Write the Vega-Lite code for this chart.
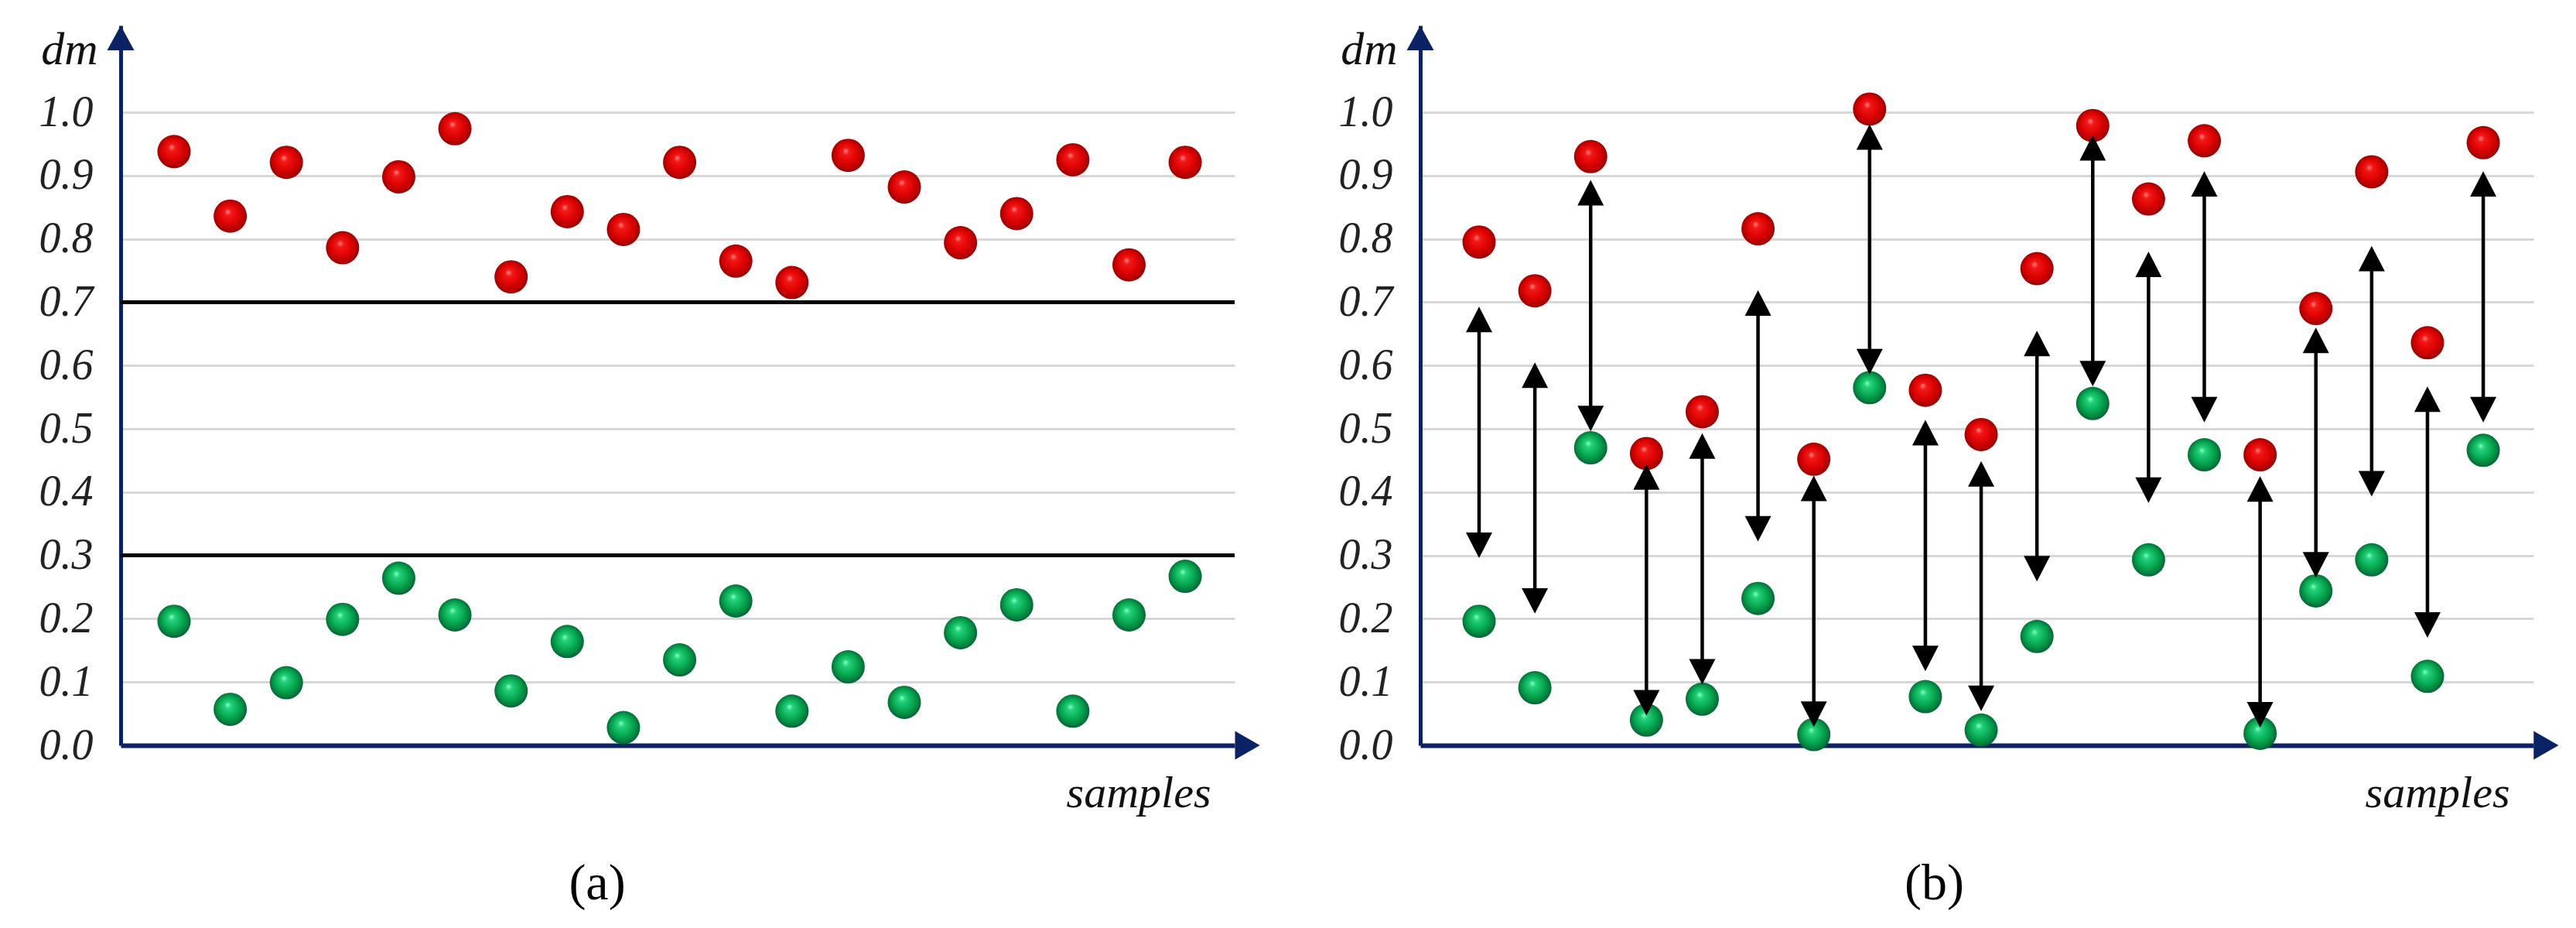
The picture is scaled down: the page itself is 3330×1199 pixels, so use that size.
{
  "$schema": "https://vega.github.io/schema/vega-lite/v6.json",
  "background": "white",
  "padding": {"left": 50, "top": 33, "right": 10, "bottom": 10},
  "bounds": "flush",
  "spacing": 240,
  "config": {
    "view": {"stroke": null},
    "axisY": {
      "domainColor": "#0b2265", "domainWidth": 5, "domainCap": "butt",
      "ticks": false, "grid": true, "gridColor": "#d7d7d7", "gridWidth": 3,
      "labelFont": "Liberation Serif", "labelFontStyle": "italic", "labelFontSize": 56,
      "labelColor": "#222222", "labelPadding": 36, "labelBaseline": "middle",
      "labelFlush": false, "labelOverlap": false, "labelBound": false,
      "titleFont": "Liberation Serif", "titleFontStyle": "italic", "titleFontSize": 60,
      "titleFontWeight": "normal", "titleColor": "#111111"
    },
    "axisX": {
      "domainColor": "#0b2265", "domainWidth": 6, "domainCap": "butt",
      "ticks": false, "grid": false, "labels": false,
      "titleFont": "Liberation Serif", "titleFontStyle": "italic", "titleFontSize": 58,
      "titleFontWeight": "normal", "titleColor": "#111111"
    }
  },
  "datasets": {
    "a": [
      {"sample": 1, "red": 0.938, "green": 0.196},
      {"sample": 2, "red": 0.836, "green": 0.057},
      {"sample": 3, "red": 0.921, "green": 0.099},
      {"sample": 4, "red": 0.786, "green": 0.199},
      {"sample": 5, "red": 0.898, "green": 0.264},
      {"sample": 6, "red": 0.974, "green": 0.206},
      {"sample": 7, "red": 0.740, "green": 0.086},
      {"sample": 8, "red": 0.843, "green": 0.164},
      {"sample": 9, "red": 0.815, "green": 0.028},
      {"sample": 10, "red": 0.921, "green": 0.135},
      {"sample": 11, "red": 0.765, "green": 0.228},
      {"sample": 12, "red": 0.731, "green": 0.054},
      {"sample": 13, "red": 0.932, "green": 0.124},
      {"sample": 14, "red": 0.882, "green": 0.068},
      {"sample": 15, "red": 0.794, "green": 0.178},
      {"sample": 16, "red": 0.840, "green": 0.222},
      {"sample": 17, "red": 0.925, "green": 0.054},
      {"sample": 18, "red": 0.759, "green": 0.206},
      {"sample": 19, "red": 0.921, "green": 0.267}
    ],
    "thresholds": [{"threshold": 0.3}, {"threshold": 0.7}],
    "one": [{"item": "axis arrow"}],
    "b": [
      {"sample": 1, "red": 0.795, "green": 0.196, "arrowTop": 0.693, "arrowBottom": 0.296},
      {"sample": 2, "red": 0.718, "green": 0.091, "arrowTop": 0.605, "arrowBottom": 0.208},
      {"sample": 3, "red": 0.930, "green": 0.470, "arrowTop": 0.893, "arrowBottom": 0.496},
      {"sample": 4, "red": 0.461, "green": 0.040, "arrowTop": 0.444, "arrowBottom": 0.047},
      {"sample": 5, "red": 0.527, "green": 0.073, "arrowTop": 0.493, "arrowBottom": 0.096},
      {"sample": 6, "red": 0.816, "green": 0.232, "arrowTop": 0.719, "arrowBottom": 0.322},
      {"sample": 7, "red": 0.452, "green": 0.017, "arrowTop": 0.426, "arrowBottom": 0.029},
      {"sample": 8, "red": 1.005, "green": 0.565, "arrowTop": 0.981, "arrowBottom": 0.586},
      {"sample": 9, "red": 0.561, "green": 0.077, "arrowTop": 0.514, "arrowBottom": 0.117},
      {"sample": 10, "red": 0.491, "green": 0.024, "arrowTop": 0.449, "arrowBottom": 0.054},
      {"sample": 11, "red": 0.753, "green": 0.172, "arrowTop": 0.655, "arrowBottom": 0.259},
      {"sample": 12, "red": 0.979, "green": 0.540, "arrowTop": 0.964, "arrowBottom": 0.567},
      {"sample": 13, "red": 0.863, "green": 0.293, "arrowTop": 0.780, "arrowBottom": 0.383},
      {"sample": 14, "red": 0.955, "green": 0.459, "arrowTop": 0.907, "arrowBottom": 0.510},
      {"sample": 15, "red": 0.459, "green": 0.019, "arrowTop": 0.425, "arrowBottom": 0.028},
      {"sample": 16, "red": 0.690, "green": 0.244, "arrowTop": 0.660, "arrowBottom": 0.265},
      {"sample": 17, "red": 0.906, "green": 0.293, "arrowTop": 0.789, "arrowBottom": 0.393},
      {"sample": 18, "red": 0.636, "green": 0.109, "arrowTop": 0.567, "arrowBottom": 0.170},
      {"sample": 19, "red": 0.952, "green": 0.466, "arrowTop": 0.907, "arrowBottom": 0.510}
    ]
  },
  "hconcat": [
    {
      "width": 1440,
      "height": 930,
      "title": {"text": "(a)", "orient": "bottom", "anchor": "middle", "frame": "group", "dx": -104, "offset": 108, "baseline": "alphabetic", "font": "Liberation Serif", "fontSize": 66, "fontWeight": "normal", "color": "#000000"},
      "layer": [
        {
          "data": {"name": "thresholds"},
          "mark": {"type": "rule", "color": "#000000", "strokeWidth": 5},
          "encoding": {
            "y": {"field": "threshold", "type": "quantitative", "title": "dm", "scale": {"domain": [0, 1.137], "nice": false, "zero": false}}
          }
        },
        {
          "data": {"name": "a"},
          "mark": {"type": "point", "shape": "circle", "size": 1849, "filled": true, "opacity": 1, "strokeWidth": 0,
            "fill": {"gradient": "radial", "x1": 0.42, "y1": 0.36, "r1": 0, "x2": 0.5, "y2": 0.5, "r2": 0.56,
              "stops": [{"offset": 0, "color": "#ff8a8a"}, {"offset": 0.18, "color": "#f41818"}, {"offset": 0.6, "color": "#d80000"}, {"offset": 0.85, "color": "#a80000"}, {"offset": 1, "color": "#6a0000"}]}},
          "encoding": {
            "x": {"field": "sample", "type": "quantitative", "title": "samples", "scale": {"domain": [0.05, 19.88], "nice": false, "zero": false},
              "axis": {"titleX": 1409, "titleY": 79, "titleAlign": "right", "titleBaseline": "alphabetic", "titleAnchor": "end"}},
            "y": {"field": "red", "type": "quantitative", "title": "dm", "scale": {"domain": [0, 1.137], "nice": false, "zero": false},
              "axis": {"values": [0, 0.1, 0.2, 0.3, 0.4, 0.5, 0.6, 0.7, 0.8, 0.9, 1.0], "format": ".1f", "titleAngle": 0, "titleX": -30, "titleY": 49, "titleAlign": "right", "titleBaseline": "alphabetic"}}
          }
        },
        {
          "data": {"name": "a"},
          "mark": {"type": "point", "shape": "circle", "size": 1849, "filled": true, "opacity": 1, "strokeWidth": 0,
            "fill": {"gradient": "radial", "x1": 0.42, "y1": 0.36, "r1": 0, "x2": 0.5, "y2": 0.5, "r2": 0.56,
              "stops": [{"offset": 0, "color": "#8affc8"}, {"offset": 0.18, "color": "#22d27a"}, {"offset": 0.6, "color": "#04a24c"}, {"offset": 0.85, "color": "#03733a"}, {"offset": 1, "color": "#024424"}]}},
          "encoding": {
            "x": {"field": "sample", "type": "quantitative", "title": "samples", "scale": {"domain": [0.05, 19.88], "nice": false, "zero": false}},
            "y": {"field": "green", "type": "quantitative", "title": "dm", "scale": {"domain": [0, 1.137], "nice": false, "zero": false}}
          }
        },
        {
          "data": {"name": "one"},
          "mark": {"type": "point", "shape": "M0,0L1,1.83L-1,1.83Z", "size": 1225, "filled": true, "opacity": 1, "color": "#0b2265", "strokeWidth": 0},
          "encoding": {
            "x": {"datum": 0.05, "type": "quantitative", "scale": {"domain": [0.05, 19.88], "nice": false, "zero": false}},
            "y": {"datum": 1.137, "type": "quantitative", "scale": {"domain": [0, 1.137], "nice": false, "zero": false}}
          }
        },
        {
          "data": {"name": "one"},
          "mark": {"type": "point", "shape": "M0,0L-1.74,-1L-1.74,1Z", "size": 1369, "filled": true, "opacity": 1, "color": "#0b2265", "strokeWidth": 0},
          "encoding": {
            "x": {"datum": 20.33, "type": "quantitative", "scale": {"domain": [0.05, 19.88], "nice": false, "zero": false}},
            "y": {"datum": 0, "type": "quantitative", "scale": {"domain": [0, 1.137], "nice": false, "zero": false}}
          }
        }
      ]
    },
    {
      "width": 1439,
      "height": 930,
      "title": {"text": "(b)", "orient": "bottom", "anchor": "middle", "frame": "group", "dx": -55, "offset": 108, "baseline": "alphabetic", "font": "Liberation Serif", "fontSize": 66, "fontWeight": "normal", "color": "#000000"},
      "layer": [
        {
          "data": {"name": "b"},
          "mark": {"type": "point", "shape": "circle", "size": 1849, "filled": true, "opacity": 1, "strokeWidth": 0,
            "fill": {"gradient": "radial", "x1": 0.42, "y1": 0.36, "r1": 0, "x2": 0.5, "y2": 0.5, "r2": 0.56,
              "stops": [{"offset": 0, "color": "#ff8a8a"}, {"offset": 0.18, "color": "#f41818"}, {"offset": 0.6, "color": "#d80000"}, {"offset": 0.85, "color": "#a80000"}, {"offset": 1, "color": "#6a0000"}]}},
          "encoding": {
            "x": {"field": "sample", "type": "quantitative", "title": "samples", "scale": {"domain": [-0.054, 19.9], "nice": false, "zero": false},
              "axis": {"titleX": 1408, "titleY": 79, "titleAlign": "right", "titleBaseline": "alphabetic", "titleAnchor": "end"}},
            "y": {"field": "red", "type": "quantitative", "title": "dm", "scale": {"domain": [0, 1.137], "nice": false, "zero": false},
              "axis": {"values": [0, 0.1, 0.2, 0.3, 0.4, 0.5, 0.6, 0.7, 0.8, 0.9, 1.0], "format": ".1f", "titleAngle": 0, "titleX": -30, "titleY": 49, "titleAlign": "right", "titleBaseline": "alphabetic"}}
          }
        },
        {
          "data": {"name": "b"},
          "mark": {"type": "point", "shape": "circle", "size": 1849, "filled": true, "opacity": 1, "strokeWidth": 0,
            "fill": {"gradient": "radial", "x1": 0.42, "y1": 0.36, "r1": 0, "x2": 0.5, "y2": 0.5, "r2": 0.56,
              "stops": [{"offset": 0, "color": "#8affc8"}, {"offset": 0.18, "color": "#22d27a"}, {"offset": 0.6, "color": "#04a24c"}, {"offset": 0.85, "color": "#03733a"}, {"offset": 1, "color": "#024424"}]}},
          "encoding": {
            "x": {"field": "sample", "type": "quantitative", "title": "samples", "scale": {"domain": [-0.054, 19.9], "nice": false, "zero": false}},
            "y": {"field": "green", "type": "quantitative", "title": "dm", "scale": {"domain": [0, 1.137], "nice": false, "zero": false}}
          }
        },
        {
          "data": {"name": "b"},
          "mark": {"type": "rule", "color": "#000000", "strokeWidth": 4.5, "yOffset": 12, "y2Offset": -12},
          "encoding": {
            "x": {"field": "sample", "type": "quantitative", "title": "samples", "scale": {"domain": [-0.054, 19.9], "nice": false, "zero": false}},
            "y": {"field": "arrowTop", "type": "quantitative", "title": "dm", "scale": {"domain": [0, 1.137], "nice": false, "zero": false}},
            "y2": {"field": "arrowBottom"}
          }
        },
        {
          "data": {"name": "b"},
          "mark": {"type": "point", "shape": "M0,0L1,1.94L-1,1.94Z", "size": 1156, "filled": true, "opacity": 1, "color": "#000000", "strokeWidth": 0},
          "encoding": {
            "x": {"field": "sample", "type": "quantitative", "title": "samples", "scale": {"domain": [-0.054, 19.9], "nice": false, "zero": false}},
            "y": {"field": "arrowTop", "type": "quantitative", "title": "dm", "scale": {"domain": [0, 1.137], "nice": false, "zero": false}}
          }
        },
        {
          "data": {"name": "b"},
          "mark": {"type": "point", "shape": "M0,0L1,-1.94L-1,-1.94Z", "size": 1156, "filled": true, "opacity": 1, "color": "#000000", "strokeWidth": 0},
          "encoding": {
            "x": {"field": "sample", "type": "quantitative", "title": "samples", "scale": {"domain": [-0.054, 19.9], "nice": false, "zero": false}},
            "y": {"field": "arrowBottom", "type": "quantitative", "title": "dm", "scale": {"domain": [0, 1.137], "nice": false, "zero": false}}
          }
        },
        {
          "data": {"name": "one"},
          "mark": {"type": "point", "shape": "M0,0L1,1.83L-1,1.83Z", "size": 1225, "filled": true, "opacity": 1, "color": "#0b2265", "strokeWidth": 0},
          "encoding": {
            "x": {"datum": -0.054, "type": "quantitative", "scale": {"domain": [-0.054, 19.9], "nice": false, "zero": false}},
            "y": {"datum": 1.137, "type": "quantitative", "scale": {"domain": [0, 1.137], "nice": false, "zero": false}}
          }
        },
        {
          "data": {"name": "one"},
          "mark": {"type": "point", "shape": "M0,0L-1.74,-1L-1.74,1Z", "size": 1369, "filled": true, "opacity": 1, "color": "#0b2265", "strokeWidth": 0},
          "encoding": {
            "x": {"datum": 20.35, "type": "quantitative", "scale": {"domain": [-0.054, 19.9], "nice": false, "zero": false}},
            "y": {"datum": 0, "type": "quantitative", "scale": {"domain": [0, 1.137], "nice": false, "zero": false}}
          }
        }
      ]
    }
  ]
}
